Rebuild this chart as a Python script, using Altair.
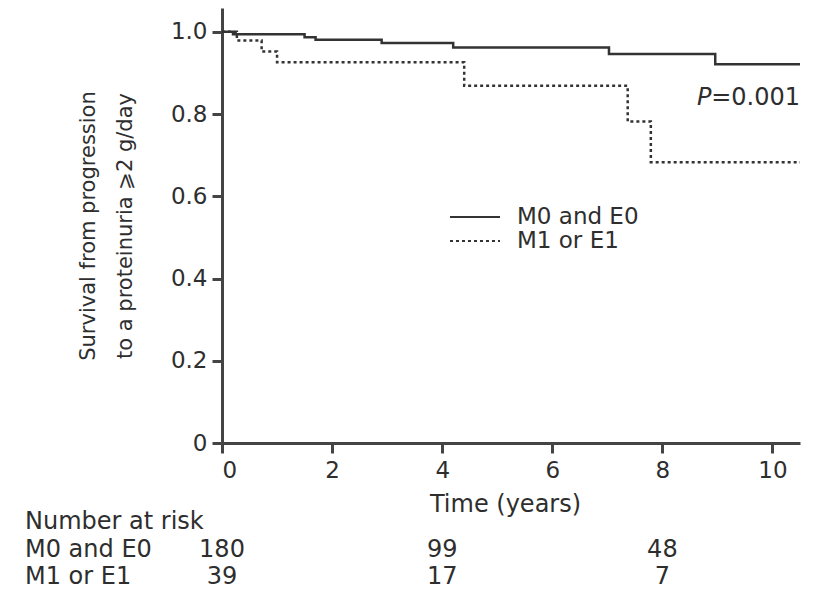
import altair as alt
import pandas as pd

# Kaplan-Meier steps
time_m0 = [0, 0.2, 1.5, 1.7, 2.9, 4.2, 7.03, 8.96, 10.5]
surv_m0 = [1.0, 0.994, 0.987, 0.981, 0.973, 0.962, 0.946, 0.921, 0.921]
time_m1 = [0, 0.27, 0.72, 1.0, 4.4, 7.37, 7.79, 10.5]
surv_m1 = [1.0, 0.979, 0.952, 0.926, 0.869, 0.782, 0.683, 0.683]
groups = ["M0 and E0", "M1 or E1"]

risk_times = [0, 4, 8]
risk_m0 = [180, 99, 48]
risk_m1 = [39, 17, 7]

FONT = "DejaVu Sans"
INK = "#2e2e2e"

curves = pd.DataFrame(
    [{"time": t, "surv": s, "group": groups[0]} for t, s in zip(time_m0, surv_m0)]
    + [{"time": t, "surv": s, "group": groups[1]} for t, s in zip(time_m1, surv_m1)]
)

xscale = alt.Scale(domain=[0, 10.5], nice=False, zero=False)
yscale = alt.Scale(domain=[0, 1.058], nice=False)

lines = alt.Chart(curves).mark_line(interpolate="step-after", color="#333333", strokeWidth=2.5).encode(
    x=alt.X("time:Q", scale=xscale,
            axis=alt.Axis(values=[0, 2, 4, 6, 8, 10], format="d", title="Time (years)", grid=False,
                          titleX=283, titlePadding=10)),
    y=alt.Y("surv:Q", scale=yscale,
            axis=alt.Axis(values=[0, 0.2, 0.4, 0.6, 0.8, 1.0], grid=False,
                          labelExpr="datum.value == 0 ? '0' : format(datum.value, '.1f')",
                          title=["Survival from progression", "to a proteinuria \u2a7e2 g/day"],
                          titleFontSize=21, titleLineHeight=37, titlePadding=35)),
    strokeDash=alt.StrokeDash("group:N", scale=alt.Scale(domain=groups, range=[[1, 0], [3, 3]]),
                              legend=alt.Legend(title=None, orient="none", legendX=227, legendY=197,
                                                symbolType="stroke", symbolSize=2500, clipHeight=24,
                                                symbolStrokeWidth=2, symbolStrokeColor="#333333",
                                                labelFontSize=23, labelFont=FONT, labelColor=INK,
                                                labelOffset=16, rowPadding=0)),
)

pdf = pd.DataFrame({"time": [8.63], "surv": [0.84], "p": ["P"]})
pval_p = alt.Chart(pdf).mark_text(align="left", baseline="middle", font=FONT, fontSize=24,
                                  fontStyle="italic", color=INK).encode(
    x=alt.X("time:Q", scale=xscale), y=alt.Y("surv:Q", scale=yscale), text="p:N")
vdf = pd.DataFrame({"time": [10.5], "surv": [0.84], "v": ["=0.001"]})
pval_v = alt.Chart(vdf).mark_text(align="right", baseline="middle", font=FONT, fontSize=24,
                                  color=INK).encode(
    x=alt.X("time:Q", scale=xscale), y=alt.Y("surv:Q", scale=yscale), text="v:N")

r0 = pd.DataFrame({"time": risk_times, "n": risk_m0})
r1 = pd.DataFrame({"time": risk_times, "n": risk_m1})
risk_row0 = alt.Chart(r0).mark_text(align="center", baseline="middle", font=FONT, fontSize=24,
                                    color=INK).encode(
    x=alt.X("time:Q", scale=xscale), y=alt.value(542), text="n:Q")
risk_row1 = alt.Chart(r1).mark_text(align="center", baseline="middle", font=FONT, fontSize=24,
                                    color=INK).encode(
    x=alt.X("time:Q", scale=xscale), y=alt.value(569), text="n:Q")


def row_label(txt, ypix):
    return alt.Chart(pd.DataFrame({"label": [txt]})).mark_text(
        align="left", baseline="middle", font=FONT, fontSize=24, color=INK
    ).encode(x=alt.value(-197), y=alt.value(ypix), text="label:N")


chart = alt.layer(
    lines, pval_p, pval_v, risk_row0, risk_row1,
    row_label("Number at risk", 514), row_label(groups[0], 542), row_label(groups[1], 569),
).properties(
    width=578, height=435,
    padding={"left": 222, "top": 8, "right": 23, "bottom": 148},
    autosize="none",
).configure_view(stroke=None).configure_axis(
    domainColor="#444444", domainWidth=3, tickColor="#444444", tickWidth=3, tickSize=10,
    labelFont=FONT, labelFontSize=23, labelColor=INK, labelPadding=5,
    titleFont=FONT, titleFontSize=24, titleColor=INK, titleFontWeight="normal",
).configure_axisX(labelPadding=6)

chart.save("out.html", embed_options={"renderer": "svg", "actions": False})
